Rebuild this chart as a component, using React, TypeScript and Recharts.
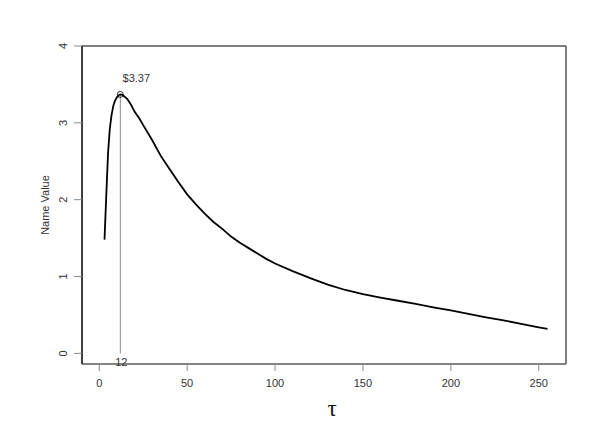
import React from 'react';
import { LineChart, Line, XAxis, YAxis, ReferenceArea, ReferenceDot, ReferenceLine } from 'recharts';

const tau = [3, 4, 5, 6, 7, 8, 9, 10, 11, 12, 13, 14, 16, 18, 20, 23, 25, 30, 35, 40, 45, 50, 55, 60, 65, 70, 75, 80, 85, 90, 95, 100, 110, 120, 130, 140, 150, 160, 170, 180, 190, 200, 210, 220, 230, 240, 250, 255];
const nameValue = [1.48, 2.05, 2.6, 2.92, 3.1, 3.22, 3.29, 3.33, 3.36, 3.37, 3.365, 3.35, 3.31, 3.24, 3.15, 3.05, 2.97, 2.78, 2.57, 2.4, 2.23, 2.07, 1.94, 1.82, 1.71, 1.62, 1.52, 1.44, 1.37, 1.3, 1.23, 1.17, 1.07, 0.98, 0.895, 0.825, 0.77, 0.725, 0.685, 0.645, 0.6, 0.56, 0.515, 0.47, 0.43, 0.385, 0.34, 0.32];
const xTicks = [0, 50, 100, 150, 200, 250];
const yTicks = [0, 1, 2, 3, 4];

const data = tau.map((t, i) => ({ tau: t, value: nameValue[i] }));
const peakIdx = nameValue.indexOf(Math.max(...nameValue));
const peakTau = tau[peakIdx];
const peakValue = nameValue[peakIdx];

const X_DOMAIN: [number, number] = [-9.8, 265.5];
const Y_DOMAIN: [number, number] = [-0.138, 4];

const font = '"Liberation Sans", Arial, sans-serif';

const YTick = (props: any) => {
    const { x, y, payload } = props;
    return (
        <text
            x={x - 11}
            y={y}
            transform={`rotate(-90, ${x - 11}, ${y})`}
            textAnchor="middle"
            dominantBaseline="central"
            fontSize={11}
            fontFamily={font}
            fill="#333"
        >
            {payload.value}
        </text>
    );
};

const YLabel = (props: any) => {
    const { x, y, height } = props.viewBox;
    const cx = x + 45;
    const cy = y + height / 2;
    return (
        <text x={cx} y={cy} transform={`rotate(-90, ${cx}, ${cy})`} textAnchor="middle" dominantBaseline="central" fontSize={11} fontFamily={font} fill="#333">
            Name Value
        </text>
    );
};

const XLabel = (props: any) => {
    const { x, y, width } = props.viewBox;
    return (
        <text x={x + width / 2 + 8} y={y + 44} textAnchor="middle" dominantBaseline="central" fontSize={23} fontFamily='"Liberation Serif", serif' fill="#111">
            τ
        </text>
    );
};

const PeakLabel = (props: any) => {
    const { x, y, width } = props.viewBox;
    const cx = x + width / 2;
    return (
        <text x={cx + 16} y={y - 9} textAnchor="middle" fontSize={11} fontFamily={font} fill="#333">
            ${peakValue.toFixed(2)}
        </text>
    );
};

const TauLabel = (props: any) => {
    const { x, y, width } = props.viewBox;
    const cx = x + width / 2;
    return (
        <text x={cx + 1} y={y + 9} textAnchor="middle" dominantBaseline="central" fontSize={11} fontFamily={font} fill="#333">
            {peakTau}
        </text>
    );
};

export default function App() {
    return (
        <div style={{ position: 'absolute', left: 0, top: 0, background: '#fff' }}>
            <LineChart width={611} height={426} data={data} margin={{ top: 46, right: 45, left: 0, bottom: 0 }}>
                <XAxis
                    dataKey="tau"
                    type="number"
                    domain={X_DOMAIN}
                    ticks={xTicks}
                    allowDataOverflow
                    height={62}
                    tickSize={7}
                    tickMargin={8}
                    axisLine={{ stroke: '#888' }}
                    tickLine={{ stroke: '#888' }}
                    tick={{ fontSize: 11, fontFamily: font, fill: '#333' }}
                    label={<XLabel />}
                />
                <YAxis
                    type="number"
                    domain={Y_DOMAIN}
                    ticks={yTicks}
                    allowDataOverflow
                    width={82}
                    tickSize={8}
                    tickMargin={0}
                    axisLine={{ stroke: '#000' }}
                    tickLine={{ stroke: '#888' }}
                    tick={<YTick />}
                    label={<YLabel />}
                />
                <ReferenceArea x1={X_DOMAIN[0]} x2={X_DOMAIN[1]} y1={Y_DOMAIN[0]} y2={Y_DOMAIN[1]} fill="none" stroke="#000" strokeWidth={1} fillOpacity={0} />
                <ReferenceLine segment={[{ x: peakTau, y: 0 }, { x: peakTau, y: peakValue }]} stroke="#888" strokeWidth={1} />
                <Line
                    type="linear"
                    dataKey="value"
                    stroke="#000"
                    strokeWidth={1.8}
                    dot={false}
                    activeDot={false}
                    isAnimationActive={false}
                />
                <ReferenceDot x={peakTau} y={peakValue} r={3} fill="none" stroke="#000" strokeWidth={0.8} label={<PeakLabel />} />
                <ReferenceDot x={peakTau} y={0} r={0} fill="none" stroke="none" label={<TauLabel />} />
            </LineChart>
        </div>
    );
}
